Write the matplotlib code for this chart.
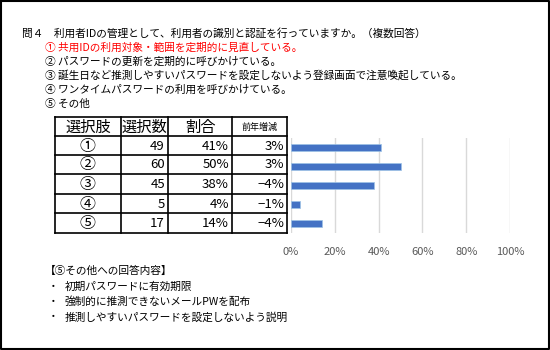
import matplotlib
matplotlib.use("Agg")
import matplotlib.pyplot as plt

plt.rcParams['font.family'] = ['Noto Sans CJK JP', 'DejaVu Sans']

# data
title = "問４　利用者IDの管理として、利用者の識別と認証を行っていますか。（複数回答）"
options = [
    "① 共用IDの利用対象・範囲を定期的に見直している。",
    "② パスワードの更新を定期的に呼びかけている。",
    "③ 誕生日など推測しやすいパスワードを設定しないよう登録画面で注意喚起している。",
    "④ ワンタイムパスワードの利用を呼びかけている。",
    "⑤ その他",
]
headers = ["選択肢", "選択数", "割合", "前年増減"]
choices = ["①", "②", "③", "④", "⑤"]
counts = [49, 60, 45, 5, 17]
ratios = [0.41, 0.50, 0.38, 0.04, 0.14]
changes = ["3%", "3%", "−4%", "−1%", "−4%"]
other_title = "【⑤その他への回答内容】"
other_answers = [
    "初期パスワードに有効期限",
    "強制的に推測できないメールPWを配布",
    "推測しやすいパスワードを設定しないよう説明",
]
xticks = [0, 0.2, 0.4, 0.6, 0.8, 1.0]

W, H = 550, 350
fig = plt.figure(figsize=(5.5, 3.5), dpi=100)
bg = fig.add_axes([0, 0, 1, 1])
bg.set_xlim(0, W)
bg.set_ylim(H, 0)
bg.axis('off')

# outer frame
bg.plot([1, W - 1, W - 1, 1, 1], [1, 1, H - 1, H - 1, 1], color='black', lw=1.5)

# question and options
bg.text(22, 33, title, fontsize=7.7, va='center', ha='left')
for i, t in enumerate(options):
    bg.text(45, 47.5 + 14 * i, t, fontsize=7.7, va='center', ha='left',
            color='#FF0000' if i == 0 else 'black')

# table
col_x = [55, 121, 168, 232, 287]
row_y = [117, 136, 155, 174, 194, 213, 233]
for x in col_x:
    bg.plot([x, x], [row_y[0], row_y[-1]], color='black', lw=1.2)
for y in row_y:
    bg.plot([col_x[0], col_x[-1]], [y, y], color='black', lw=1.2)

hdr_sizes = [11, 11, 11, 6.5]
for j, h in enumerate(headers):
    bg.text((col_x[j] + col_x[j + 1]) / 2, (row_y[0] + row_y[1]) / 2 + 0.5, h,
            fontsize=hdr_sizes[j], ha='center', va='center')

for i in range(len(choices)):
    yc = (row_y[i + 1] + row_y[i + 2]) / 2 + 0.5
    bg.text((col_x[0] + col_x[1]) / 2, yc, choices[i], fontsize=11.5,
            ha='center', va='center')
    bg.text(col_x[2] - 3, yc, str(counts[i]), fontsize=9.5, ha='right', va='center')
    bg.text(col_x[3] - 3, yc, f"{ratios[i]:.0%}", fontsize=9.5, ha='right', va='center')
    bg.text(col_x[4] - 3, yc, changes[i], fontsize=9.5, ha='right', va='center')

# bar chart
ax = fig.add_axes([291 / W, (H - 233) / H, 219 / W, 95 / H])
ypos = list(range(len(ratios)))
ax.barh(ypos, ratios, height=0.38, color='#4472C4', edgecolor='#9DC3E6', lw=0.5, zorder=3)
ax.set_ylim(len(ratios) - 0.5, -0.5)
ax.set_xlim(0, 1)
ax.set_xticks(xticks)
ax.set_xticklabels([f"{int(v * 100)}%" for v in xticks], fontsize=8, color='#595959')
ax.set_yticks([])
ax.grid(axis='x', color='#D9D9D9', lw=1, zorder=0)
ax.tick_params(axis='x', length=0, pad=10)
for s in ax.spines.values():
    s.set_visible(False)
ax.patch.set_alpha(0)

# other answers
bg.text(45, 271, other_title, fontsize=7.7, va='center', ha='left')
for i, t in enumerate(other_answers):
    y = 287 + 15 * i
    bg.text(48, y, "・", fontsize=7.7, va='center', ha='left')
    bg.text(65, y, t, fontsize=7.7, va='center', ha='left')

fig.savefig("out.png", dpi=100)
